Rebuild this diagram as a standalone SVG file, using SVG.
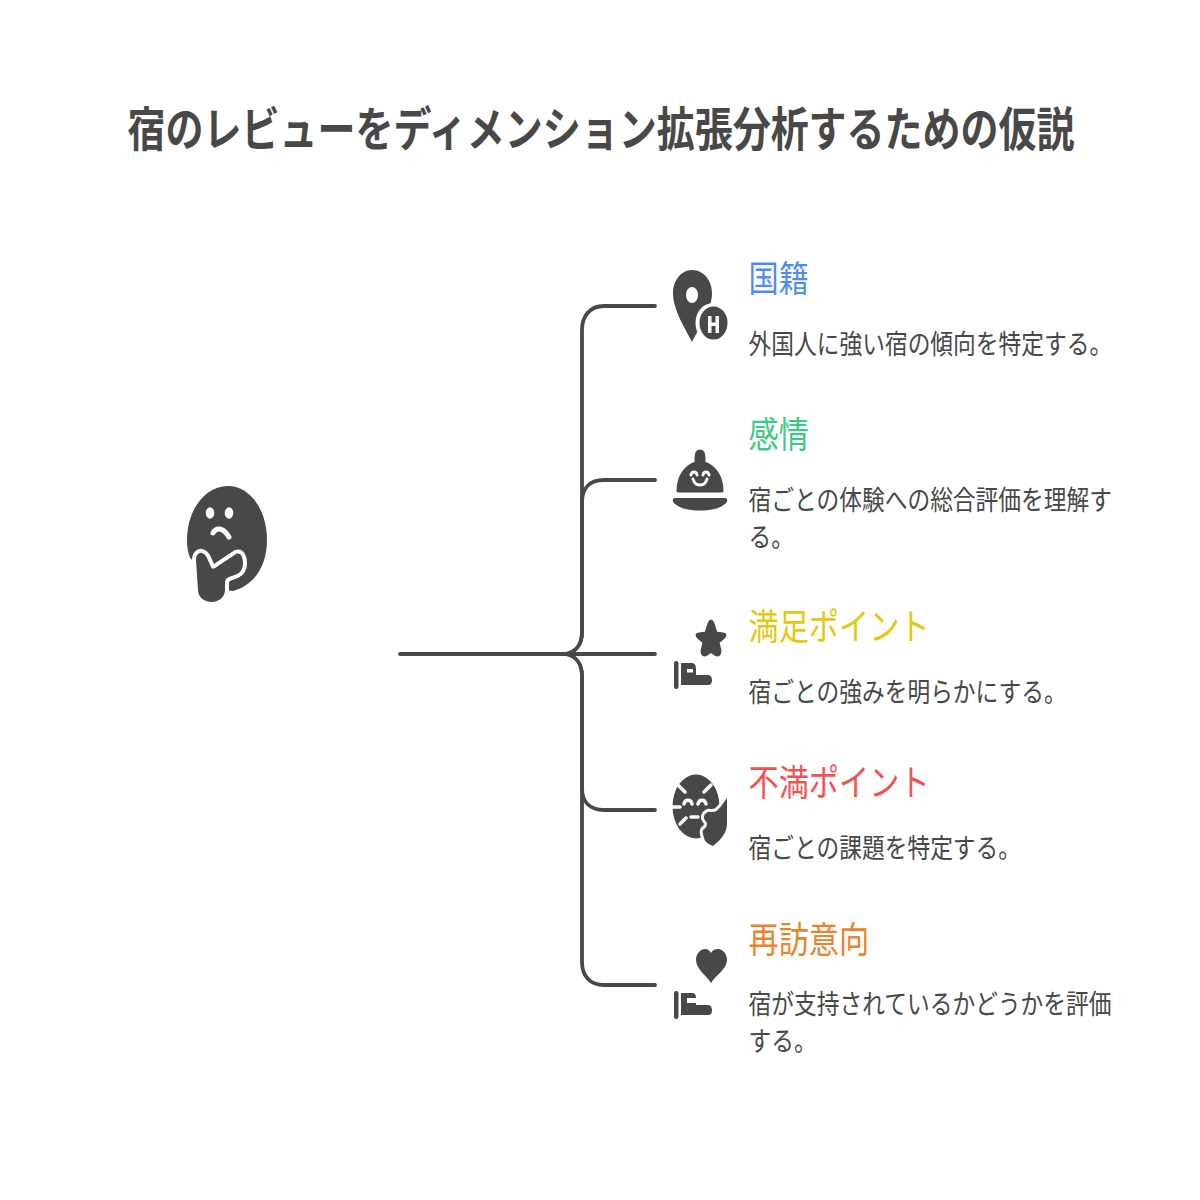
<svg xmlns="http://www.w3.org/2000/svg" width="1200" height="1200" viewBox="0 0 1200 1200">
<style>
text{font-family:"Noto Sans CJK JP","Noto Sans",sans-serif}
.t{font-size:38px;font-weight:700;fill:#484848;text-anchor:middle}
.h{font-size:30.200px}
.d{font-size:22.750px;fill:#484848}
.c{fill:none;stroke:#484848;stroke-width:3.800;stroke-linecap:round}
.i{fill:#484848}
.w{fill:#fff}
.o{fill:#484848;stroke:#fff;stroke-width:8;paint-order:stroke;stroke-linejoin:round}
.ws{fill:none;stroke:#fff;stroke-width:3.500;stroke-linecap:round}
.r{stroke:#484848;stroke-width:3;stroke-linejoin:round}
</style>
<rect width="1200" height="1200" fill="#fff"/>
<text class="t" transform="translate(601,145.500) scale(1,1.220)">宿のレビューをディメンション拡張分析するための仮説</text>
<g id="connectors">
<path class="c" d="M400 654H655"/>
<path class="c" d="M566 654C576 652 582 644 582 632V330C582 316 590 306 604 306H655"/>
<path class="c" d="M566 654C576 652 582 644 582 632V502C582 488 590 480 604 480H655"/>
<path class="c" d="M566 654C576 656 582 664 582 676V788C582 802 590 810 604 810H655"/>
<path class="c" d="M566 654C576 656 582 664 582 676V962C582 976 590 985 604 985H655"/>
</g>
<g id="root">
<path class="i" d="M233 591C255 585 267 565 267 540C267 510 250 486 228 486C205 486 187 510 187 540C187 547 188 553 190 558L225 590Z"/>
<path class="o" d="M196 560C196 555 199 552 202 553C205 554 206 556 207 558L211 567C212 569 213 569 215 568L236 554C241 552 243 558 243 563C243 568 241 572 237 574L229 577C226 578 225 580 225 583V591C224 598 218 602 212 602C204 602 198 597 198 590Z"/>
<ellipse class="w" cx="210" cy="513" rx="4.300" ry="5.700"/><ellipse class="w" cx="229" cy="513" rx="4.300" ry="5.700"/>
<path class="ws" style="stroke-width:5" d="M213 533C216 527 223 527 229 537"/>
</g>
<g id="node1">
<path class="i" d="M692 270C704 270 712 281 712 293C712 310 699 328 692 342C685 328 673 310 673 293C673 281 681 270 692 270Z"/>
<ellipse class="w" cx="692" cy="295" rx="6" ry="8"/>
<ellipse class="w" cx="713" cy="323" rx="17.500" ry="20"/>
<ellipse class="i" cx="713.500" cy="323" rx="14" ry="16.500"/>
<path class="w" d="M708 316h3.500v6.500h4v-6.500h3.500v17h-3.500v-7h-4v7h-3.500z"/>
<text class="h" transform="translate(748.500,292) scale(1,1.220)" fill="#4f8cf0">国籍</text>
<text class="d" transform="translate(748.500,354) scale(1,1.200)">外国人に強い宿の傾向を特定する。</text>
</g>
<g id="node2">
<path class="i r" d="M696 458C696 453 697 451 700 451C703 451 704 453 704 458V463C716 467 722 478 722 491H678C678 478 684 467 696 463Z"/>
<path class="i" d="M675 498H725C728 498 728 502 725 504C717 510 708 510.500 700 510.500C692 510.500 683 510 675 504C672 502 672 498 675 498Z"/>
<path class="ws" style="stroke-width:3" d="M691 475C692 471 696 471 697 475M703 475C704 471 708 471 709 475M693 479C695 487 705 487 707 479"/>
<text class="h" transform="translate(748.500,448) scale(1,1.220)" fill="#3cc985">感情</text>
<text class="d" transform="translate(748.500,510) scale(1,1.200)">宿ごとの体験への総合評価を理解す</text>
<text class="d" transform="translate(748.500,547) scale(1,1.200)">る。</text>
</g>
<g id="node3">
<path class="i r" d="M711 621C712 621 713 623 714 627L716 633L723 634C726 634 725 636 723 638L718 642L720 651C720 655 718 656 715 654L711 651L707 654C704 656 702 655 702 651L704 642L699 638C697 636 696 634 699 634L706 633L708 627C709 623 710 621 711 621Z"/>
<rect class="i" x="674" y="661" width="4.500" height="28" rx="2.200"/>
<path class="i" d="M681 663H692C695 663 696 666 696 669V675H708C711 675 712 678 712 680C712 683 711 685 708 685H681ZM687 669V672.500H693V669Z" fill-rule="evenodd"/>
<text class="h" transform="translate(748.500,640) scale(1,1.220)" fill="#e2c90e">満足ポイント</text>
<text class="d" transform="translate(748.500,702) scale(1,1.200)">宿ごとの強みを明らかにする。</text>
</g>
<g id="node4">
<ellipse class="i" cx="696" cy="806.500" rx="23.500" ry="32"/>
<path class="ws" style="stroke-width:3.500" d="M678 785L685 792M711 785L704 792M671 807H680M680 824L686 818M684 804C685 799 691 799 692 804M698 804C699 799 705 799 706 804M691 817H698"/>
<path class="i" style="stroke:#fff;stroke-width:6;paint-order:stroke;stroke-linejoin:round" d="M727 798V823C727 832 722 839 713 846C708 844 705 842 704 838C703 834 702 832 703 830C705 828 707 827 707 824C707 821 703 820 704 816C705 813 708 811 711 812C718 813 721 806 727 798Z"/>
<text class="h" transform="translate(748.500,796) scale(1,1.220)" fill="#ef5350">不満ポイント</text>
<text class="d" transform="translate(748.500,858) scale(1,1.200)">宿ごとの課題を特定する。</text>
</g>
<g id="node5">
<path class="i" d="M711 983C706 975 696 969 696 960C696 953 701 949 705 949C708 949 710 951 711 953C712 951 714 949 718 949C722 949 727 953 727 960C727 969 716 975 711 983Z"/>
<rect class="i" x="674" y="991" width="4.500" height="28" rx="2.200"/>
<path class="i" d="M681 993H692C695 993 696 995 696 998H687V1003H696V1005H708C711 1005 712 1008 712 1010C712 1013 711 1015 708 1015H681Z"/>
<text class="h" transform="translate(748.500,953) scale(1,1.220)" fill="#e88330">再訪意向</text>
<text class="d" transform="translate(748.500,1014) scale(1,1.200)">宿が支持されているかどうかを評価</text>
<text class="d" transform="translate(748.500,1051) scale(1,1.200)">する。</text>
</g>
</svg>
